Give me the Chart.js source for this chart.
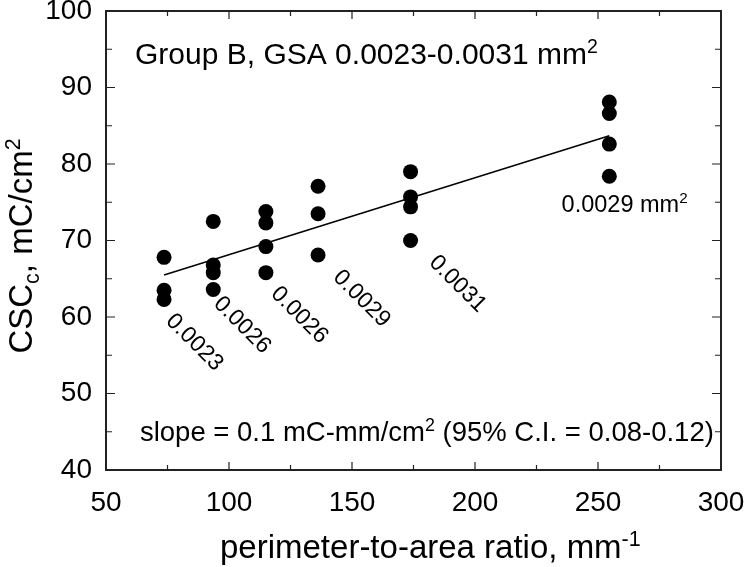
<!DOCTYPE html>
<html>
<head>
<meta charset="utf-8">
<script src="https://cdn.jsdelivr.net/npm/chart.js@4.4.1/dist/chart.umd.min.js"></script>
<style>
  html, body { margin: 0; padding: 0; background: #fff; }
</style>
</head>
<body>
<canvas id="chart" width="750" height="567"></canvas>
<script>
// perimeter-to-area ratio of each electrode group (mm^-1)
const ratio = [73.6, 93.6, 115.0, 136.2, 173.8, 254.6];
// CSCc values measured at each ratio (mC/cm2)
const cscGroups = [
    [67.8, 63.5, 62.3],
    [72.5, 66.8, 65.8, 63.6],
    [73.8, 72.3, 69.2, 65.8],
    [77.1, 73.5, 68.1],
    [79.0, 75.7, 74.4, 70.0],
    [88.1, 86.6, 82.6, 78.4]
];
// GSA of each group, mm2
const areaLabels = ['0.0023', '0.0026', '0.0026', '0.0029', '0.0031', '0.0029'];
// regression line ends
const fitX = [73.6, 254.6];
const fitY = [65.5, 83.7];

const FONT = '"Liberation Sans", Arial, sans-serif';

let points = [];
ratio.forEach((x, i) => cscGroups[i].forEach(y => points.push({x: x, y: y})));
let fitLine = fitX.map((x, i) => ({x: x, y: fitY[i]}));

// where the rotated GSA labels start (data units)
const labelAt = [[74.0, 59.35], [93.4, 61.6], [116.7, 62.9], [142.0, 65.05], [181.0, 67.0]];

function richText(ctx, parts, x, y, size, align) {
    let w = 0;
    parts.forEach(([t, m]) => {
        ctx.font = (m ? size * 0.65 : size) + 'px ' + FONT;
        w += ctx.measureText(t).width;
    });
    let cx = align === 'center' ? x - w / 2 : x;
    parts.forEach(([t, m]) => {
        ctx.font = (m ? size * 0.65 : size) + 'px ' + FONT;
        let dy = m === 'sup' ? -size * 0.36 : (m === 'sub' ? size * 0.2 : 0);
        ctx.fillText(t, cx, y + dy);
        cx += ctx.measureText(t).width;
    });
}

const decor = {
    id: 'decor',
    afterDraw(chart) {
        const ctx = chart.ctx;
        const a = chart.chartArea;
        const xs = chart.scales.x, ys = chart.scales.y;
        ctx.save();
        ctx.strokeStyle = '#222';
        ctx.fillStyle = '#000';

        // inward ticks on all four sides
        ctx.lineWidth = 1.2;
        ctx.beginPath();
        for (let v = 50; v <= 300; v += 25) {
            let px = xs.getPixelForValue(v);
            let len = v % 50 === 0 ? 8 : 5;
            ctx.moveTo(px, a.bottom); ctx.lineTo(px, a.bottom - len);
            ctx.moveTo(px, a.top); ctx.lineTo(px, a.top + len);
        }
        for (let v = 40; v <= 100; v += 5) {
            let py = ys.getPixelForValue(v);
            let len = v % 10 === 0 ? 9 : 6;
            ctx.moveTo(a.left, py); ctx.lineTo(a.left + len, py);
            ctx.moveTo(a.right, py); ctx.lineTo(a.right - len, py);
        }
        ctx.stroke();

        ctx.lineWidth = 2;
        ctx.strokeRect(a.left, a.top, a.right - a.left, a.bottom - a.top);

        ctx.textAlign = 'left';
        ctx.textBaseline = 'alphabetic';

        // rotated GSA labels
        ctx.font = '23px ' + FONT;
        labelAt.forEach(([lx, ly], i) => {
            ctx.save();
            ctx.translate(xs.getPixelForValue(lx), ys.getPixelForValue(ly));
            ctx.rotate(Math.PI / 4);
            ctx.fillText(areaLabels[i], 0, 0);
            ctx.restore();
        });
        richText(ctx, [[areaLabels[5] + ' mm', ''], ['2', 'sup']],
            xs.getPixelForValue(235.2), ys.getPixelForValue(73.76), 23.5);

        richText(ctx, [['Group B, GSA 0.0023-0.0031 mm', ''], ['2', 'sup']],
            xs.getPixelForValue(61.8), ys.getPixelForValue(93.07), 30);
        richText(ctx, [['slope = 0.1 mC-mm/cm', ''], ['2', 'sup'], [' (95% C.I. = 0.08-0.12)', '']],
            xs.getPixelForValue(63.8), ys.getPixelForValue(43.8), 27.5);

        // axis titles
        richText(ctx, [['perimeter-to-area ratio, mm', ''], ['-1', 'sup']], 220, 558, 33);
        ctx.translate(32, 246);
        ctx.rotate(-Math.PI / 2);
        richText(ctx, [['CSC', ''], ['c', 'sub'], [', mC/cm', ''], ['2', 'sup']], 0, 0, 33, 'center');
        ctx.restore();
    }
};

function pinX(scale) {
    scale.height = 97;
    scale.paddingLeft = 0; scale.paddingRight = 0;
}
function pinY(scale) {
    scale.width = 106;
    scale.paddingTop = 0; scale.paddingBottom = 0;
}

new Chart(document.getElementById('chart'), {
    type: 'scatter',
    data: {
        datasets: [{
            data: points,
            backgroundColor: '#000',
            borderWidth: 0,
            pointRadius: 7.5,
            pointHoverRadius: 7.5
        }, {
            data: fitLine,
            showLine: true,
            borderColor: '#000',
            borderWidth: 1.5,
            pointRadius: 0,
            fill: false
        }]
    },
    options: {
        responsive: false,
        animation: false,
        events: [],
        layout: {padding: {top: 11, right: 29, left: 0, bottom: 0}},
        plugins: {legend: {display: false}, tooltip: {enabled: false}},
        scales: {
            x: {
                min: 50, max: 300,
                grid: {display: false, drawTicks: false, tickLength: 0},
                border: {display: false},
                ticks: {stepSize: 50, padding: 16, color: '#000', font: {family: FONT, size: 28}},
                afterFit: pinX
            },
            y: {
                min: 40, max: 100,
                grid: {display: false, drawTicks: false, tickLength: 0},
                border: {display: false},
                ticks: {stepSize: 10, padding: 14, color: '#000', font: {family: FONT, size: 28}},
                afterFit: pinY
            }
        }
    },
    plugins: [decor]
});
</script>
</body>
</html>
